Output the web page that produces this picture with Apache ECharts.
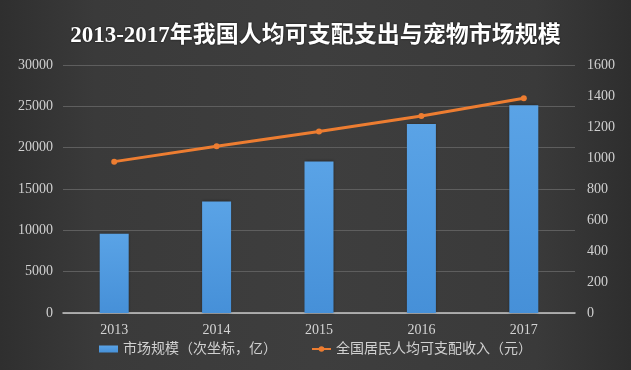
<!DOCTYPE html>
<html>
<head>
<meta charset="utf-8">
<script src="https://cdn.jsdelivr.net/npm/echarts@6/dist/echarts.min.js"></script>
<style>
html,body{margin:0;padding:0;background:#383838;}
#c{width:631px;height:370px;}
</style>
</head>
<body>
<div id="c"></div>
<script>
const categories = ['2013', '2014', '2015', '2016', '2017'];
const marketSize = [512, 720, 978, 1220, 1340];          // 亿, secondary axis
const income = [18311, 20167, 21966, 23821, 25974];      // 元, primary axis
const leftTicks = [0, 30000, 5000];
const rightTicks = [0, 1600, 200];
const titleText = '2013-2017年我国人均可支配支出与宠物市场规模';
const barName = '市场规模（次坐标，亿）';
const lineName = '全国居民人均可支配收入（元）';

const serif = '"Liberation Serif", "DejaVu Serif", serif';
const cjk = '"Liberation Serif", "Noto Sans CJK SC", sans-serif';

const chart = echarts.init(document.getElementById('c'), null, {renderer: 'canvas'});
chart.setOption({
  animation: false,
  backgroundColor: {
    type: 'linear', x: 0, y: 0, x2: 1, y2: 0,
    colorStops: [
      {offset: 0, color: '#2f2f2f'},
      {offset: 0.15, color: '#3a3a3a'},
      {offset: 0.5, color: '#3e3e3e'},
      {offset: 0.85, color: '#3a3a3a'},
      {offset: 1, color: '#2e2e2e'}
    ]
  },
  title: {
    text: titleText,
    left: 'center',
    top: 20,
    textStyle: {
      color: '#ffffff',
      fontSize: 23,
      fontWeight: 'bold',
      fontFamily: cjk,
      textShadowColor: 'rgba(0,0,0,0.8)',
      textShadowBlur: 2
    }
  },
  grid: {left: 63, right: 56, top: 65, bottom: 57, containLabel: false},
  legend: {
    bottom: 9,
    left: 'center',
    itemGap: 34,
    itemWidth: 19,
    itemHeight: 7,
    textStyle: {color: '#d0d0d0', fontSize: 14, fontFamily: cjk},
    data: [
      {name: barName, icon: 'rect'},
      {name: lineName}
    ]
  },
  xAxis: {
    type: 'category',
    data: categories,
    axisLine: {lineStyle: {color: '#c8c8c8', width: 1.5}},
    axisTick: {show: false},
    axisLabel: {color: '#d4d4d4', fontSize: 14, fontFamily: serif, margin: 10}
  },
  yAxis: [
    {
      type: 'value',
      min: leftTicks[0], max: leftTicks[1], interval: leftTicks[2],
      axisLine: {show: false},
      axisTick: {show: false},
      axisLabel: {color: '#d0d0d0', fontSize: 14, fontFamily: serif, margin: 10,
        formatter: v => String(v)},
      splitLine: {lineStyle: {color: '#5e5e5e', width: 1}}
    },
    {
      type: 'value',
      min: rightTicks[0], max: rightTicks[1], interval: rightTicks[2],
      position: 'right',
      axisLine: {show: false},
      axisTick: {show: false},
      axisLabel: {color: '#d0d0d0', fontSize: 14, fontFamily: serif, margin: 12,
        formatter: v => String(v)},
      splitLine: {show: false}
    }
  ],
  series: [
    {
      name: barName,
      type: 'bar',
      yAxisIndex: 1,
      data: marketSize,
      barWidth: 29,
      itemStyle: {
        color: {
          type: 'linear', x: 0, y: 0, x2: 0, y2: 1,
          colorStops: [
            {offset: 0, color: '#5aa3e6'},
            {offset: 1, color: '#4690d8'}
          ]
        },
        shadowColor: 'rgba(0,0,0,0.4)',
        shadowBlur: 3
      }
    },
    {
      name: lineName,
      type: 'line',
      yAxisIndex: 0,
      data: income,
      symbol: 'circle',
      symbolSize: 6,
      lineStyle: {color: '#ed7d31', width: 3},
      itemStyle: {color: '#ed7d31'}
    }
  ]
});
</script>
</body>
</html>
